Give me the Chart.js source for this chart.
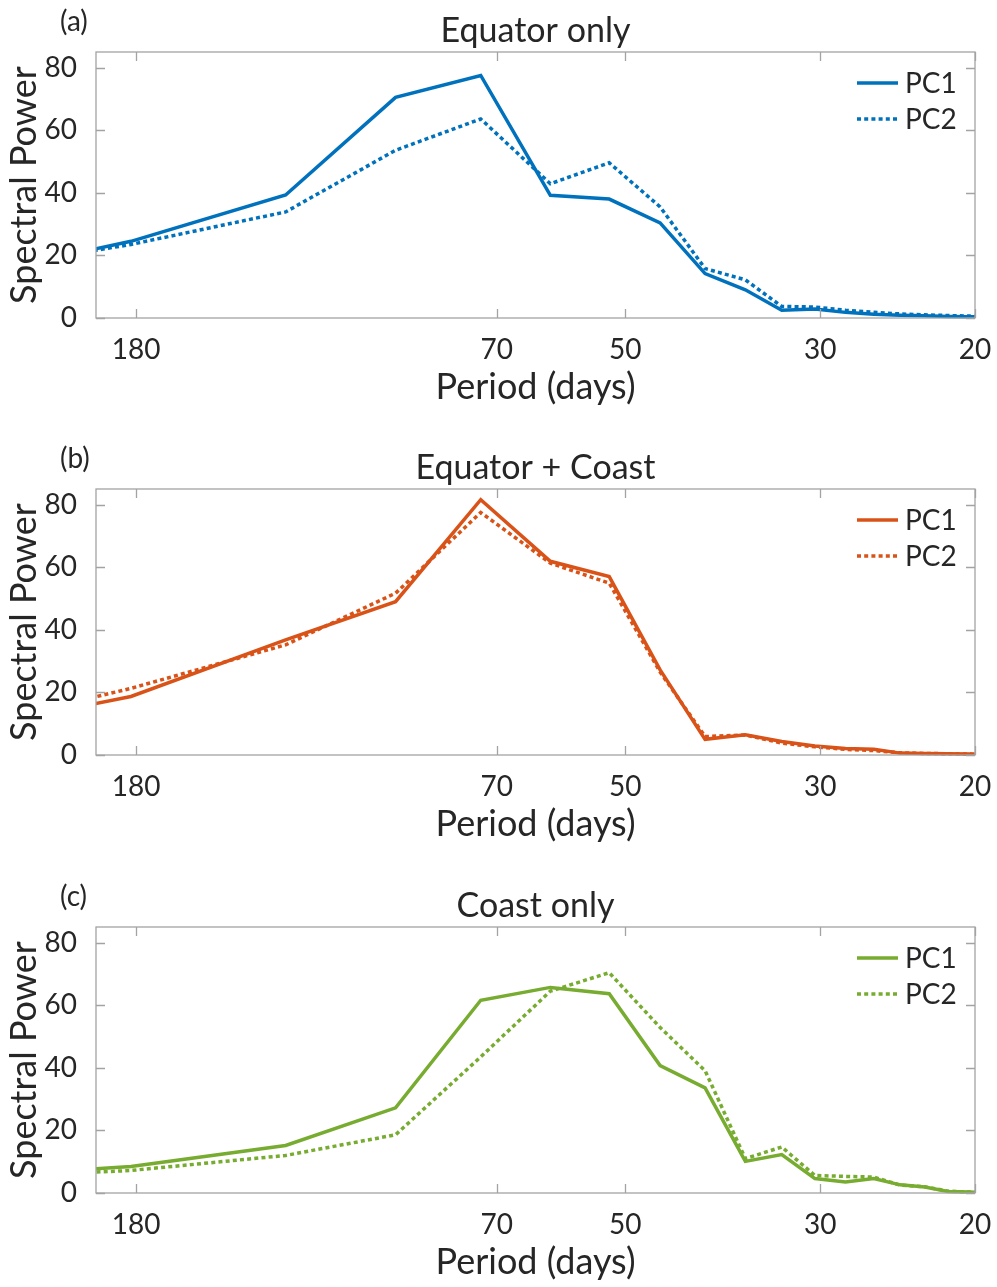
<!DOCTYPE html>
<html>
<head>
<meta charset="utf-8">
<script src="https://cdn.jsdelivr.net/npm/chart.js@4"></script>
<style>
    body { margin: 0; background: #fff; }
    #pagina { position: relative; width: 997px; height: 1287px; }
    canvas { position: absolute; left: 0; }
</style>
</head>
<body>
<div id="pagina">
    <canvas id="grafico-a" width="997" height="412" style="top:0px"></canvas>
    <canvas id="grafico-b" width="997" height="412" style="top:437px"></canvas>
    <canvas id="grafico-c" width="997" height="412" style="top:875px"></canvas>
</div>
<script>
// periods (days) of the spectral estimates, 365/k
const PERIODS = [365, 182.5, 121.7, 91.25, 73, 60.83, 52.14, 45.63, 40.56, 36.5,
    33.18, 30.42, 28.08, 26.07, 24.33, 22.81, 21.47, 20.28, 19.21];

const X_TICKS = [180, 70, 50, 30, 20];
const Y_TICKS = [0, 20, 40, 60, 80];

const EQUATOR_PC1 = [6.6, 24.5, 39.3, 70.5, 77.5, 39.2, 38.0, 30.4, 14.2, 9.0,
    2.5, 2.9, 1.8, 1.2, 0.9, 0.7, 0.5, 0.4, 0.3];
const EQUATOR_PC2 = [9.5, 23.5, 33.9, 53.6, 63.6, 42.9, 49.6, 35.5, 15.8, 12.2,
    3.7, 3.5, 2.5, 1.8, 1.3, 1.0, 0.8, 0.6, 0.5];

const BOTH_PC1 = [1.6, 18.7, 36.8, 49.0, 81.6, 61.9, 57.0, 27.2, 5.0, 6.5,
    4.3, 2.9, 2.1, 1.8, 0.6, 0.5, 0.4, 0.3, 0.2];
const BOTH_PC2 = [1.0, 21.3, 35.2, 51.7, 77.5, 61.3, 54.9, 26.5, 5.9, 6.4,
    3.8, 2.6, 1.8, 1.4, 0.7, 0.5, 0.4, 0.3, 0.2];

const COAST_PC1 = [3.0, 8.5, 15.2, 27.2, 61.6, 65.7, 63.7, 40.7, 33.6, 10.1,
    12.3, 4.6, 3.5, 4.6, 2.6, 1.9, 0.5, 0.3, 0.2];
const COAST_PC2 = [3.3, 7.2, 12.0, 18.6, 43.5, 64.5, 70.4, 52.9, 39.1, 11.0,
    14.7, 5.6, 5.3, 5.1, 2.5, 2.0, 0.6, 0.3, 0.2];

const FONTE = 'Lato, "Open Sans", sans-serif';
const COR_TEXTO = '#262626';
const COR_EIXO = '#a3a3a3';

const PAINEIS = [
    { canvas: 'grafico-a', letra: '(a)', titulo: 'Equator only', cor: '#0072BD', pc1: EQUATOR_PC1, pc2: EQUATOR_PC2 },
    { canvas: 'grafico-b', letra: '(b)', titulo: 'Equator + Coast', cor: '#D95319', pc1: BOTH_PC1, pc2: BOTH_PC2 },
    { canvas: 'grafico-c', letra: '(c)', titulo: 'Coast only', cor: '#77AC30', pc1: COAST_PC1, pc2: COAST_PC2 },
];

function paraPontos(valores) {
    return PERIODS.map((periodo, i) => ({ x: periodo, y: valores[i] }));
}

// box, inward ticks, panel letter, title and legend drawn MATLAB-style
const pluginPainel = {
    id: 'painel',
    afterDraw(chart, args, opts) {
        const { ctx, chartArea: { left, right, top, bottom }, scales: { x, y } } = chart;
        ctx.save();

        ctx.strokeStyle = COR_EIXO;
        ctx.lineWidth = 1.3;
        ctx.setLineDash([]);
        ctx.strokeRect(left, top, right - left, bottom - top);
        ctx.beginPath();
        for (const tick of x.ticks) {
            const px = Math.round(x.getPixelForValue(tick.value)) + 0.5;
            ctx.moveTo(px, bottom); ctx.lineTo(px, bottom - 9);
            ctx.moveTo(px, top); ctx.lineTo(px, top + 9);
        }
        for (const tick of y.ticks) {
            const py = Math.round(y.getPixelForValue(tick.value)) + 0.5;
            ctx.moveTo(left, py); ctx.lineTo(left + 9, py);
            ctx.moveTo(right, py); ctx.lineTo(right - 9, py);
        }
        ctx.stroke();

        ctx.fillStyle = COR_TEXTO;
        ctx.textBaseline = 'middle';
        ctx.textAlign = 'left';
        ctx.font = `28px ${FONTE}`;
        ctx.fillText(opts.letra, 60, 22);

        ctx.textBaseline = 'alphabetic';
        ctx.textAlign = 'center';
        ctx.font = `34px ${FONTE}`;
        ctx.fillText(opts.titulo, (left + right) / 2, 42);

        ctx.font = `28px ${FONTE}`;
        ctx.textAlign = 'left';
        ctx.textBaseline = 'middle';
        chart.data.datasets.forEach((ds, i) => {
            const ly = top + 31 + i * 36;
            ctx.strokeStyle = ds.borderColor;
            ctx.lineWidth = ds.borderWidth;
            ctx.setLineDash(ds.borderDash || []);
            ctx.beginPath();
            ctx.moveTo(right - 118, ly);
            ctx.lineTo(right - 77, ly);
            ctx.stroke();
            ctx.fillText(ds.label, right - 70, ly + 1);
        });

        ctx.restore();
    },
};

function criarPainel(painel) {
    const base = { borderColor: painel.cor, borderWidth: 3.5, pointRadius: 0, tension: 0, clip: { left: 0, right: 0, top: 0, bottom: 3 } };
    return new Chart(document.getElementById(painel.canvas), {
        type: 'line',
        data: {
            datasets: [
                { ...base, label: 'PC1', data: paraPontos(painel.pc1) },
                { ...base, label: 'PC2', data: paraPontos(painel.pc2), borderDash: [4, 3.2] },
            ],
        },
        options: {
            responsive: false,
            animation: false,
            events: [],
            layout: { padding: { left: 0, right: 22, top: 52, bottom: 0 } },
            plugins: {
                legend: { display: false },
                tooltip: { enabled: false },
                painel: { letra: painel.letra, titulo: painel.titulo },
            },
            scales: {
                x: {
                    type: 'logarithmic',
                    reverse: true,
                    min: 20,
                    max: 200,
                    afterBuildTicks: (escala) => { escala.ticks = X_TICKS.map((v) => ({ value: v })); },
                    afterFit: (escala) => {
                        escala.height = 94;
                        escala.paddingLeft = 0;
                        escala.paddingRight = 0;
                    },
                    grid: { display: false },
                    border: { display: false },
                    ticks: {
                        autoSkip: false, maxRotation: 0, padding: 7,
                        color: COR_TEXTO, font: { family: FONTE, size: 28 },
                        callback: (valor) => String(valor),
                    },
                    title: {
                        display: true, text: 'Period (days)', color: COR_TEXTO,
                        font: { family: FONTE, size: 36 }, padding: { top: 0, bottom: 3 },
                    },
                },
                y: {
                    min: 0,
                    max: 85,
                    afterBuildTicks: (escala) => { escala.ticks = Y_TICKS.map((v) => ({ value: v })); },
                    afterFit: (escala) => { escala.width = 96; },
                    grid: { display: false },
                    border: { display: false },
                    ticks: {
                        padding: 11, color: COR_TEXTO, font: { family: FONTE, size: 28 },
                    },
                    title: {
                        display: true, text: 'Spectral Power', color: COR_TEXTO,
                        font: { family: FONTE, size: 36 }, padding: { top: 3, bottom: 0 },
                    },
                },
            },
        },
        plugins: [pluginPainel],
    });
}

PAINEIS.forEach(criarPainel);
</script>
</body>
</html>
